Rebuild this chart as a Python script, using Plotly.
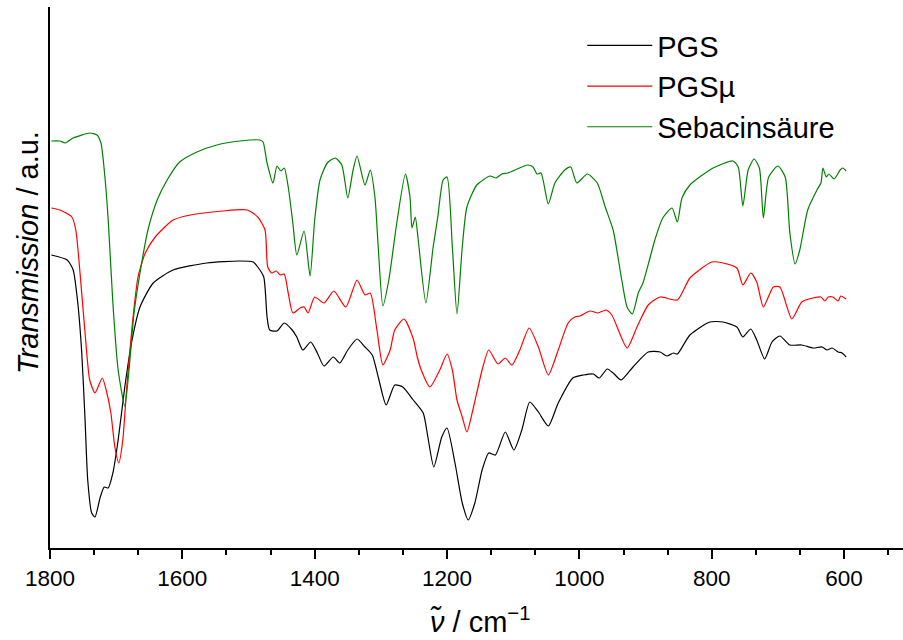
import plotly.graph_objects as go

# FTIR spectra, wavenumber in cm^-1, transmission in arbitrary (offset) units
pgs_wn = [1798, 1774, 1765, 1758, 1752, 1747, 1743, 1737, 1732, 1724, 1718, 1712, 1705, 1697,
          1687, 1676, 1664, 1644, 1614, 1563, 1513, 1493, 1486, 1477, 1472, 1468, 1457, 1446,
          1434, 1427, 1418, 1406, 1396, 1386, 1372, 1362, 1350, 1336, 1324, 1313, 1304, 1292,
          1279, 1267, 1251, 1236, 1229, 1220, 1208, 1200, 1188, 1177, 1168, 1158, 1147, 1137,
          1127, 1112, 1099, 1087, 1075, 1062, 1047, 1032, 1010, 994, 979, 970, 958, 949, 937,
          919, 896, 878, 868, 858, 852, 833, 803, 783, 762, 753, 741, 732, 720, 709, 697, 682,
          664, 647, 633, 626, 618, 609, 603, 597]
pgs_t = [2.93, 2.88, 2.78, 2.45, 1.95, 1.28, 0.68, 0.35, 0.31, 0.51, 0.61, 0.60, 0.75, 1.08,
         1.61, 2.08, 2.41, 2.65, 2.78, 2.85, 2.87, 2.86, 2.81, 2.71, 2.31, 2.18, 2.17, 2.25,
         2.18, 2.11, 1.98, 2.06, 1.95, 1.82, 1.91, 1.85, 1.98, 2.09, 2.01, 1.93, 1.71, 1.43,
         1.63, 1.61, 1.48, 1.35, 1.11, 0.81, 1.11, 1.20, 0.85, 0.45, 0.28, 0.45, 0.78, 0.95,
         0.93, 1.16, 0.98, 1.18, 1.46, 1.36, 1.22, 1.45, 1.70, 1.73, 1.74, 1.70, 1.79, 1.75, 1.68,
         1.81, 1.96, 1.96, 1.92, 1.95, 1.94, 2.13, 2.26, 2.26, 2.21, 2.11, 2.19, 2.08, 1.89, 2.06,
         2.12, 2.03, 2.03, 2.00, 2.01, 1.98, 2.00, 1.96, 1.95, 1.91]

pgsmu_wn = [1798, 1785, 1767, 1761, 1755, 1747, 1740, 1732, 1721, 1714, 1708, 1702, 1696, 1690,
            1684, 1676, 1667, 1656, 1641, 1614, 1588, 1539, 1502, 1486, 1475, 1471, 1465, 1458,
            1452, 1446, 1440, 1433, 1422, 1416, 1410, 1400, 1386, 1371, 1353, 1336, 1324, 1316,
            1306, 1297, 1286, 1279, 1265, 1251, 1245, 1239, 1226, 1211, 1200, 1192, 1185, 1177,
            1170, 1161, 1147, 1137, 1123, 1112, 1102, 1090, 1076, 1062, 1047, 1032, 1017, 1007,
            999, 984, 972, 960, 951, 928, 913, 896, 878, 852, 833, 800, 783, 762, 753, 741, 732,
            722, 707, 697, 679, 664, 647, 635, 629, 624, 617, 609, 605, 597]
pgsmu_t = [3.40, 3.38, 3.31, 3.18, 2.78, 2.15, 1.68, 1.55, 1.70, 1.55, 1.35, 1.01, 0.85, 1.08,
           1.61, 2.21, 2.71, 2.95, 3.11, 3.28, 3.33, 3.37, 3.38, 3.31, 3.18, 2.81, 2.75, 2.77,
           2.73, 2.74, 2.55, 2.35, 2.40, 2.41, 2.35, 2.51, 2.45, 2.57, 2.41, 2.68, 2.53, 2.55,
           2.18, 1.83, 1.98, 2.18, 2.29, 2.09, 1.91, 1.78, 1.61, 1.78, 1.94, 1.78, 1.48, 1.31,
           1.16, 1.38, 1.78, 1.98, 1.84, 1.90, 1.83, 1.98, 2.20, 2.01, 1.73, 1.98, 2.25, 2.31,
           2.32, 2.37, 2.35, 2.38, 2.33, 2.00, 2.21, 2.43, 2.51, 2.48, 2.70, 2.86, 2.85, 2.80,
           2.63, 2.75, 2.66, 2.41, 2.61, 2.61, 2.29, 2.46, 2.50, 2.51, 2.47, 2.51, 2.51, 2.47,
           2.52, 2.49]

seb_wn = [1798, 1785, 1777, 1765, 1740, 1729, 1723, 1718, 1712, 1705, 1697, 1687, 1681, 1673,
          1664, 1652, 1638, 1623, 1604, 1578, 1548, 1513, 1483, 1478, 1472, 1463, 1457, 1451,
          1446, 1440, 1433, 1427, 1416, 1407, 1400, 1392, 1381, 1369, 1359, 1350, 1342, 1336,
          1324, 1316, 1309, 1304, 1297, 1288, 1276, 1263, 1256, 1253, 1248, 1244, 1232, 1221,
          1214, 1206, 1200, 1192, 1185, 1177, 1170, 1155, 1135, 1126, 1117, 1108, 1078, 1070,
          1064, 1058, 1047, 1037, 1022, 1013, 1004, 988, 973, 961, 949, 936, 928, 920, 911, 904,
          893, 886, 874, 860, 852, 845, 833, 798, 768, 760, 753, 745, 736, 728, 722, 714, 700,
          689, 682, 674, 667, 655, 641, 635, 632, 627, 623, 615, 606, 602, 597]
seb_t = [4.07, 4.07, 4.05, 4.10, 4.15, 4.13, 4.05, 3.78, 3.28, 2.45, 1.78, 1.42, 1.75, 2.35,
         2.75, 3.18, 3.48, 3.68, 3.86, 3.96, 4.03, 4.07, 4.08, 4.06, 3.85, 3.65, 3.82, 3.77,
         3.80, 3.61, 3.25, 2.93, 3.17, 2.72, 3.28, 3.68, 3.85, 3.90, 3.83, 3.50, 3.78, 3.92,
         3.63, 3.78, 3.51, 3.01, 2.42, 2.68, 3.25, 3.74, 3.51, 3.20, 3.31, 3.11, 2.45, 3.01,
         3.31, 3.68, 3.71, 3.01, 2.34, 3.01, 3.41, 3.63, 3.72, 3.70, 3.74, 3.75, 3.83, 3.81,
         3.74, 3.75, 3.44, 3.65, 3.78, 3.81, 3.65, 3.74, 3.65, 3.41, 3.18, 2.68, 2.41, 2.34,
         2.55, 2.65, 2.91, 3.08, 3.30, 3.40, 3.26, 3.50, 3.63, 3.80, 3.87, 3.81, 3.42, 3.78,
         3.89, 3.80, 3.30, 3.71, 3.82, 3.71, 3.15, 2.84, 2.98, 3.38, 3.58, 3.65, 3.80, 3.71,
         3.74, 3.69, 3.78, 3.80, 3.77]

series = [
    ("PGS", pgs_wn, pgs_t, "#000000"),
    ("PGSµ", pgsmu_wn, pgsmu_t, "#ff0000"),
    ("Sebacinsäure", seb_wn, seb_t, "#008000"),
]

FONT = "Liberation Sans, Arial, sans-serif"

fig = go.Figure()
for name, wn, t, color in series:
    fig.add_trace(go.Scatter(
        x=wn, y=t, name=name, mode="lines",
        line=dict(color=color, width=1.2, shape="spline", smoothing=0.6),
    ))

fig.update_layout(
    width=903, height=640,
    margin=dict(l=50, r=0, t=7, b=92),
    paper_bgcolor="white", plot_bgcolor="white",
    font=dict(family=FONT, color="black"),
    showlegend=True,
    legend=dict(
        x=0.624, y=0.976, xanchor="left", yanchor="top",
        font=dict(size=29, family=FONT),
        bgcolor="rgba(0,0,0,0)", itemwidth=65,
        tracegroupgap=0,
    ),
)

fig.update_xaxes(
    range=[1800, 511], showgrid=False, zeroline=False,
    showline=True, linecolor="black", linewidth=2,
    ticks="outside", ticklen=9, tickwidth=2, tickcolor="black",
    tick0=600, dtick=200,
    tickfont=dict(size=22.5, family=FONT),
    minor=dict(ticks="outside", ticklen=5, tickwidth=2, tickcolor="black",
               dtick=200 / 3, tick0=600),
)
fig.update_yaxes(
    range=[0, 5.41], showgrid=False, zeroline=False,
    showline=True, linecolor="black", linewidth=2,
    showticklabels=False, ticks="",
)

fig.add_annotation(
    text="<i>Transmission</i> / a.u.", xref="paper", yref="paper",
    x=-0.026, y=0.547, xanchor="center", yanchor="middle",
    textangle=-90, showarrow=False, font=dict(size=29, family=FONT),
)
fig.add_annotation(
    text="<i>ν̃</i> / cm<sup>−1</sup>", xref="paper", yref="paper",
    x=0.504, y=-0.0961, xanchor="center", yanchor="top",
    showarrow=False, font=dict(size=29, family=FONT),
)

fig.write_html("out.html")
